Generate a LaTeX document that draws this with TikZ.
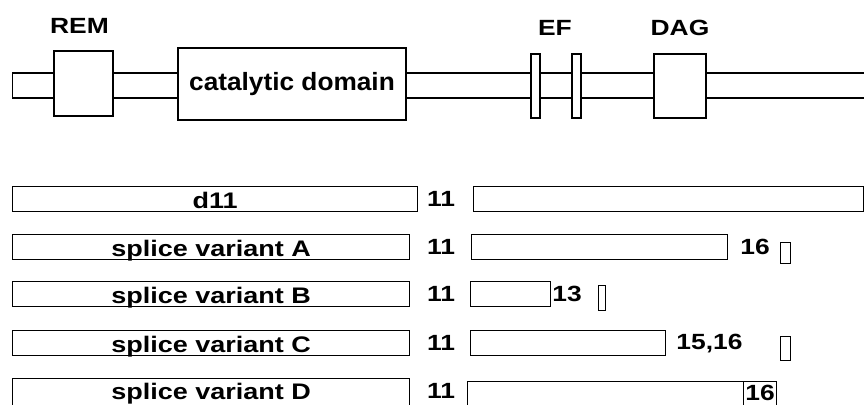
\documentclass[tikz,border=0pt]{standalone}
\usepackage{fontspec}
\setmainfont{Liberation Sans}
\newfontfamily\widefont{Liberation Sans}[FakeStretch=1.2]
\newfontfamily\catfont{Liberation Sans}[FakeStretch=1.05]
\usetikzlibrary{positioning}

\begin{document}
\begin{tikzpicture}[x=1pt, y=-1pt,
  dombox/.style={draw, line width=1.2pt, fill=white, inner sep=0pt},
  exon/.style={draw, line width=1.2pt, fill=white, inner sep=0pt, minimum height=25pt,
    text height=19pt, text depth=0pt, font=\widefont\bfseries\fontsize{22.5}{22.5}\selectfont},
  tag/.style={inner sep=0pt, font=\widefont\bfseries\fontsize{22}{22}\selectfont},
  num/.style={inner sep=0pt, font=\widefont\bfseries\fontsize{22}{22}\selectfont}
]
  \useasboundingbox (0,0) rectangle (864,404);

  \node[dombox, minimum width=860pt, minimum height=25pt, anchor=west] (chain) at (12,85.5) {};
  \node[dombox, minimum width=59pt, minimum height=65pt] (rem) at (83.5,83.5) {};
  \node[dombox, minimum width=228pt, minimum height=72pt,
    font=\catfont\bfseries\fontsize{25}{25}\selectfont] (cat) at (292,84) {catalytic domain};
  \node[dombox, minimum width=9pt, minimum height=64pt] (efa) at (535.5,86) {};
  \node[dombox, minimum width=9pt, minimum height=64pt] (efb) at (576.5,86) {};
  \node[dombox, minimum width=52pt, minimum height=64pt] (dag) at (680,86) {};

  \node[tag, above=17pt of rem, xshift=-4pt] (remlbl) {REM};
  \node[tag] (eflbl) at (555,28) {EF};
  \node[tag, above=17pt of dag] (daglbl) {DAG};

  \node[exon, minimum width=405pt, anchor=north west] (d11l) at (12,186) {d11};
  \node[num] (d11n) at (441,198.5) {11};
  \node[exon, minimum width=390pt, anchor=north west] (d11r) at (473,186) {};

  \node[exon, minimum width=397pt, anchor=north west] (sval) at (12,234) {splice variant A};
  \node[num] (svan) at (441,247) {11};
  \node[exon, minimum width=256pt, anchor=north west] (svar) at (471,234) {};
  \node[num, right=12pt of svar] (svae) {16};
  \node[dombox, minimum width=10pt, minimum height=21pt, anchor=north west] (svat) at (780,242) {};

  \node[exon, minimum width=397pt, anchor=north west] (svbl) at (12,281) {splice variant B};
  \node[num] (svbn) at (441,293.5) {11};
  \node[exon, minimum width=80pt, anchor=north west] (svbr) at (470,281) {};
  \node[num, right=1pt of svbr] (svbe) {13};
  \node[dombox, minimum width=7pt, minimum height=25pt, anchor=north west] (svbt) at (598,285) {};

  \node[exon, minimum width=397pt, anchor=north west] (svcl) at (12,330) {splice variant C};
  \node[num] (svcn) at (441,342.5) {11};
  \node[exon, minimum width=195pt, anchor=north west] (svcr) at (470,330) {};
  \node[num, right=10pt of svcr] (svce) {15,16};
  \node[dombox, minimum width=10pt, minimum height=24pt, anchor=north west] (svct) at (780,336) {};

  \node[exon, minimum width=397pt, minimum height=28pt, text height=14pt, anchor=north west] (svdl) at (12,378) {splice variant D};
  \node[num] (svdn) at (441,391) {11};
  \node[exon, minimum width=309pt, minimum height=28pt, anchor=north west] (svdr) at (467,381) {};
  \node[exon, minimum width=33pt, minimum height=28pt, text height=9pt, anchor=north east,
    font=\widefont\bfseries\fontsize{22}{22}\selectfont] (svde) at (svdr.north east) {16};
\end{tikzpicture}
\end{document}
